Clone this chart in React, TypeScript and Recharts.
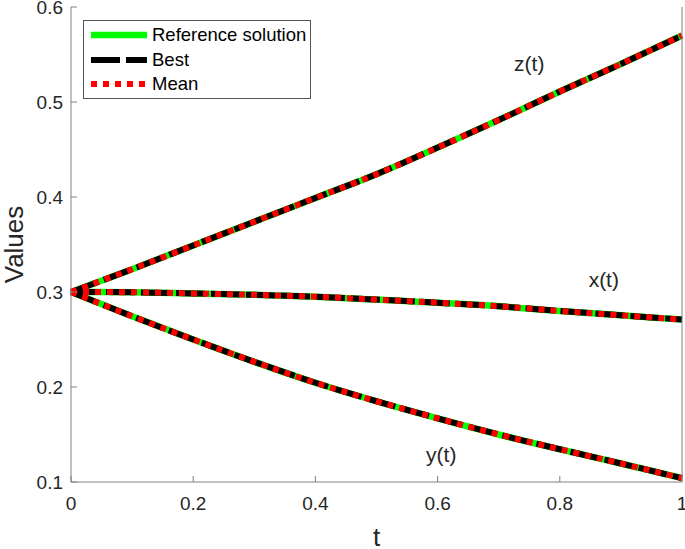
import React from 'react';
import { LineChart, Line, XAxis, YAxis, ReferenceDot } from 'recharts';

const T_VALUES = [0, 0.1, 0.2, 0.3, 0.4, 0.5, 0.6, 0.7, 0.8, 0.9, 1.0];
const X_VALUES = [0.300, 0.2997, 0.2985, 0.2970, 0.2950, 0.2920, 0.2887, 0.2850, 0.2800, 0.2755, 0.2710];
const Y_VALUES = [0.300, 0.2745, 0.2500, 0.2265, 0.2045, 0.1850, 0.1670, 0.1500, 0.1345, 0.1195, 0.1040];
const Z_VALUES = [0.300, 0.324, 0.349, 0.374, 0.399, 0.424, 0.452, 0.481, 0.511, 0.540, 0.570];

const X_TICKS = [0, 0.2, 0.4, 0.6, 0.8, 1];
const Y_TICKS = [0.1, 0.2, 0.3, 0.4, 0.5, 0.6];

const VARIABLES = ['x', 'y', 'z'];
const METHODS = [
  { name: 'Reference solution', color: '#00ff00', width: 6.5, dash: undefined as string | undefined },
  { name: 'Best', color: '#000000', width: 6, dash: '29 6' },
  { name: 'Mean', color: '#ff0000', width: 6, dash: '6 6' },
];

const ANNOTATIONS = [
  { label: 'z(t)', t: 0.75, v: 0.541 },
  { label: 'x(t)', t: 0.872, v: 0.3126 },
  { label: 'y(t)', t: 0.606, v: 0.1284 },
];

const data = T_VALUES.map((t, i) => ({ t, x: X_VALUES[i], y: Y_VALUES[i], z: Z_VALUES[i] }));

const FONT = '"Liberation Sans", Arial, Helvetica, sans-serif';
const TEXT = '#262626';
const AXIS = '#808080';
const TICK_LEN = 6;

const fmt = (v: number) => (Math.round(v * 10) / 10).toString();

const BottomTick = (props: any) => {
  const { x, y, payload } = props;
  return (
    <g>
      <line x1={x} y1={y} x2={x} y2={y - TICK_LEN} stroke={AXIS} strokeWidth={1} />
      <text x={x} y={y + 28} textAnchor="middle" fill={TEXT} fontSize={19} fontFamily={FONT}>
        {fmt(payload.value)}
      </text>
    </g>
  );
};
const TopTick = (props: any) => {
  const { x, y } = props;
  return <line x1={x} y1={y} x2={x} y2={y + TICK_LEN} stroke={AXIS} strokeWidth={1} />;
};
const LeftTick = (props: any) => {
  const { x, y, payload } = props;
  return (
    <g>
      <line x1={x} y1={y} x2={x + TICK_LEN} y2={y} stroke={AXIS} strokeWidth={1} />
      <text x={x - 8} y={y + 7} textAnchor="end" fill={TEXT} fontSize={19} fontFamily={FONT}>
        {fmt(payload.value)}
      </text>
    </g>
  );
};
const RightTick = (props: any) => {
  const { x, y } = props;
  return <line x1={x} y1={y} x2={x - TICK_LEN} y2={y} stroke={AXIS} strokeWidth={1} />;
};

const LegendBox = () => (
  <div
    style={{
      position: 'absolute',
      left: 83,
      top: 20,
      width: 226,
      height: 77,
      border: '1px solid #555',
      background: '#fff',
      fontFamily: FONT,
      fontSize: 18.5,
      color: '#000',
    }}
  >
    {METHODS.map((m, i) => (
      <div key={m.name} style={{ position: 'absolute', left: 6, top: 2 + i * 24.5, height: 24, display: 'flex', alignItems: 'center' }}>
        <svg width={58} height={24} style={{ display: 'block' }}>
          <line x1={1} y1={12} x2={57} y2={12} stroke={m.color} strokeWidth={m.width} strokeDasharray={m.dash} />
        </svg>
        <span style={{ marginLeft: 4, whiteSpace: 'nowrap', lineHeight: '24px' }}>{m.name}</span>
      </div>
    ))}
  </div>
);

export default function App() {
  return (
    <div style={{ position: 'absolute', left: 0, top: 0, width: 685, height: 549, background: '#fff' }}>
      <LineChart width={685} height={549} data={data} margin={{ top: 7, right: 0, bottom: 0, left: 0 }}>
        <XAxis
          xAxisId={0}
          dataKey="t"
          type="number"
          domain={[0, 1]}
          ticks={X_TICKS}
          height={67}
          stroke={AXIS}
          tickLine={false}
          tickSize={0}
          tickMargin={0}
          tick={<BottomTick />}
          interval={0}
          label={{ value: 't', position: 'insideBottom', offset: 3, fill: TEXT, fontSize: 26, fontFamily: FONT }}
        />
        <XAxis
          xAxisId="top"
          orientation="top"
          dataKey="t"
          type="number"
          domain={[0, 1]}
          ticks={X_TICKS}
          height={0}
          stroke={AXIS}
          tickLine={false}
          tickSize={0}
          tickMargin={0}
          tick={<TopTick />}
          interval={0}
        />
        <YAxis
          yAxisId={0}
          type="number"
          domain={[0.1, 0.6]}
          ticks={Y_TICKS}
          width={71}
          stroke={AXIS}
          tickLine={false}
          tickSize={0}
          tickMargin={0}
          tick={<LeftTick />}
          interval={0}
          label={{ value: 'Values', angle: -90, position: 'insideLeft', offset: 14, fill: TEXT, fontSize: 26, fontFamily: FONT, style: { textAnchor: 'middle' } }}
        />
        <YAxis
          yAxisId="right"
          orientation="right"
          type="number"
          domain={[0.1, 0.6]}
          ticks={Y_TICKS}
          width={3}
          stroke={AXIS}
          tickLine={false}
          tickSize={0}
          tickMargin={0}
          tick={<RightTick />}
          interval={0}
        />
        {METHODS.map((m) =>
          VARIABLES.map((v) => (
            <Line
              key={m.name + v}
              xAxisId={0}
              yAxisId={0}
              type="monotone"
              dataKey={v}
              stroke={m.color}
              strokeWidth={m.width}
              strokeDasharray={m.dash}
              dot={false}
              activeDot={false}
              isAnimationActive={false}
              strokeLinecap="butt"
            />
          ))
        )}
        {ANNOTATIONS.map((a) => (
          <ReferenceDot
            key={a.label}
            xAxisId={0}
            yAxisId={0}
            x={a.t}
            y={a.v}
            r={0}
            fill="none"
            stroke="none"
            ifOverflow="visible"
            label={{ value: a.label, position: 'center', fill: TEXT, fontSize: 21, fontFamily: FONT }}
          />
        ))}
      </LineChart>
      <LegendBox />
    </div>
  );
}
